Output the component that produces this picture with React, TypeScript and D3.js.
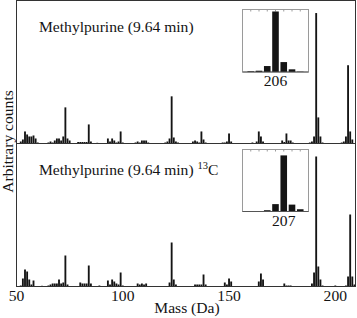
import * as d3 from 'd3';
import { useEffect, useRef } from 'react';

// top spectrum (unlabelled), arbitrary counts
const massTop = [
  52, 53, 54, 55, 56, 57, 58, 59, 60,
  65, 66, 67, 68, 69, 70, 71, 72, 73, 74, 75,
  79, 80, 81, 82, 83, 84, 85, 88,
  93, 94, 95, 96, 97, 98, 99, 100,
  106, 107, 108, 109, 110, 111, 112,
  120, 121, 122, 123, 124, 125, 126,
  133, 134, 135, 136, 137, 138, 139,
  147, 148, 149, 150, 151,
  161, 163, 164, 165, 166,
  175, 176, 177, 178, 179, 180,
  188, 189, 190, 191, 192, 193, 194,
  203, 204, 205, 206, 207, 208
];
const countsTop = [
  2, 4, 12, 9, 7, 7, 8, 5, 1,
  1, 2, 1, 3, 5, 5, 3, 7, 36, 5, 3,
  1.5, 1.5, 1.5, 1.5, 1.5, 19, 2, 0.7,
  5, 2, 5, 3, 1, 2, 12, 1,
  1, 2, 1, 3, 3, 3, 1,
  1, 2, 5, 47, 6, 2, 1,
  2, 3, 2, 1, 12, 4, 1,
  1, 1, 2, 10, 2,
  1, 2, 12, 7, 2,
  3, 1.5, 10, 3, 3, 1,
  1, 2, 7, 130, 26, 7, 1,
  1, 2, 7, 78, 12, 4
];

// bottom spectrum (13C labelled)
const massBottom = [
  52, 53, 54, 55, 56, 57, 58, 62,
  65, 66, 67, 68, 69, 70, 71, 72, 73, 74,
  80, 81, 82, 83, 84, 85, 89,
  93, 94, 95, 96, 97, 98, 99, 100,
  107, 108, 109, 110, 111,
  122, 123, 124, 125,
  134, 135, 136, 137, 138, 139,
  148, 149, 150, 151,
  164, 165, 166,
  176, 177, 178, 179,
  189, 190, 191, 192, 193, 194,
  200,
  205, 206, 207, 208, 209
];
const countsBottom = [
  1, 8, 17, 15, 7, 2, 6, 0.7,
  1, 2, 3, 3, 3, 7, 3, 4, 31, 2,
  4, 3, 3, 3, 21, 3, 1,
  6, 2, 7, 5, 3, 2, 14, 1,
  3, 2, 3, 2, 3,
  4, 44, 7, 2,
  2, 2, 2, 2, 12, 2,
  4, 2, 8, 5,
  5, 13, 7,
  3, 1, 1, 1,
  3, 14, 130, 20, 7, 1,
  1,
  1, 10, 72, 10, 2
];

// molecular ion insets
const insetMass = [203, 204, 205, 206, 207, 208, 209];
const insetTopCounts = [0.7, 1.3, 6, 61, 10, 2.7, 0.3];
const insetBottomCounts = [0.3, 0.3, 1.3, 7.5, 57, 7, 2.3];

const xTicks = [50, 100, 150, 200];
const insetLabels = ['206', '207'];

const FONT = "'Liberation Serif', 'DejaVu Serif', serif";
const FS = 15.6;
const INK = '#141414';

const App = () => {
  const ref = useRef<SVGSVGElement | null>(null);

  useEffect(() => {
    if (!ref.current) return;
    const svg = d3.select(ref.current);
    svg.selectAll('*').remove();

    const width = 357;
    const height = 318;
    svg.attr('width', width).attr('height', height);

    const left = 16.5;
    const right = 355.5;
    const x = d3.scaleLinear().domain([50, 209.5]).range([left, right]);
    const bw = 1.85;

    const panels = [
      { mass: massTop, counts: countsTop, y0: 143.5, y1: 1, inset: insetTopCounts, iy0: 9.5, iy1: 72, label: insetLabels[0], lm: 206 },
      { mass: massBottom, counts: countsBottom, y0: 286.5, y1: 144.5, inset: insetBottomCounts, iy0: 149.5, iy1: 211.5, label: insetLabels[1], lm: 207 }
    ];

    panels.forEach(p => {
      const y = d3.scaleLinear().domain([0, 142]).range([p.y0, p.y1]);
      svg.append('g')
        .selectAll('rect')
        .data(p.mass)
        .enter()
        .append('rect')
        .attr('x', d => x(d) - bw / 2)
        .attr('width', bw)
        .attr('y', (d, i) => y(p.counts[i]))
        .attr('height', (d, i) => p.y0 - y(p.counts[i]))
        .attr('fill', INK);

      // inset
      const xi = d3.scaleLinear().domain([202, 210]).range([242.5, 308.5]);
      const yi = d3.scaleLinear().domain([0, 63]).range([p.iy1, p.iy0]);
      const g = svg.append('g');
      g.append('rect')
        .attr('x', 242.5)
        .attr('y', p.iy0)
        .attr('width', 66)
        .attr('height', p.iy1 - p.iy0)
        .attr('fill', 'white')
        .attr('stroke', '#9a9a9a')
        .attr('stroke-width', 1);
      g.selectAll('line.tk')
        .data(insetMass)
        .enter()
        .append('line')
        .attr('x1', d => xi(d))
        .attr('x2', d => xi(d))
        .attr('y1', p.iy0)
        .attr('y2', p.iy0 + 2)
        .attr('stroke', '#9a9a9a');
      const ibw = 6.6;
      g.selectAll('rect.bar')
        .data(insetMass)
        .enter()
        .append('rect')
        .attr('x', d => xi(d) - ibw / 2)
        .attr('width', ibw)
        .attr('y', (d, i) => yi(p.inset[i]))
        .attr('height', (d, i) => p.iy1 - yi(p.inset[i]))
        .attr('fill', INK);
      g.append('line')
        .attr('x1', 242.5).attr('x2', 308.5)
        .attr('y1', p.iy1).attr('y2', p.iy1)
        .attr('stroke', '#555');
      g.append('text')
        .attr('x', xi(p.lm))
        .attr('y', p.iy1 + 14)
        .attr('text-anchor', 'middle')
        .attr('font-family', FONT)
        .attr('font-size', FS)
        .attr('fill', INK)
        .text(p.label);
    });

    // frame
    svg.append('rect')
      .attr('x', left)
      .attr('y', 0.5)
      .attr('width', right - left)
      .attr('height', 286)
      .attr('fill', 'none')
      .attr('stroke', '#333');
    svg.append('line')
      .attr('x1', left).attr('x2', right)
      .attr('y1', 143.5).attr('y2', 143.5)
      .attr('stroke', '#333');

    // x tick labels
    svg.append('g')
      .selectAll('text')
      .data(xTicks)
      .enter()
      .append('text')
      .attr('x', d => x(d))
      .attr('y', 301)
      .attr('text-anchor', 'middle')
      .attr('font-family', FONT)
      .attr('font-size', FS)
      .attr('fill', INK)
      .text(d => d);

    svg.append('text')
      .attr('x', 187)
      .attr('y', 313)
      .attr('text-anchor', 'middle')
      .attr('font-family', FONT)
      .attr('font-size', FS)
      .attr('fill', INK)
      .text('Mass (Da)');

    svg.append('text')
      .attr('transform', 'translate(12.5,141.5) rotate(-90)')
      .attr('text-anchor', 'middle')
      .attr('font-family', FONT)
      .attr('font-size', FS)
      .attr('fill', INK)
      .text('Arbitrary counts');

    svg.append('text')
      .attr('x', 39)
      .attr('y', 32)
      .attr('font-family', FONT)
      .attr('font-size', FS)
      .attr('fill', INK)
      .text('Methylpurine (9.64 min)');

    const lab = svg.append('text')
      .attr('x', 39)
      .attr('y', 175)
      .attr('font-family', FONT)
      .attr('font-size', FS)
      .attr('fill', INK);
    lab.append('tspan').text('Methylpurine (9.64 min) ');
    lab.append('tspan').attr('font-size', 10.5).attr('dy', -6).text('13');
    lab.append('tspan').attr('dy', 6).text('C');
  }, []);

  return <svg ref={ref} style={{ position: 'absolute', left: 0, top: 0 }} />;
};

export default App;
